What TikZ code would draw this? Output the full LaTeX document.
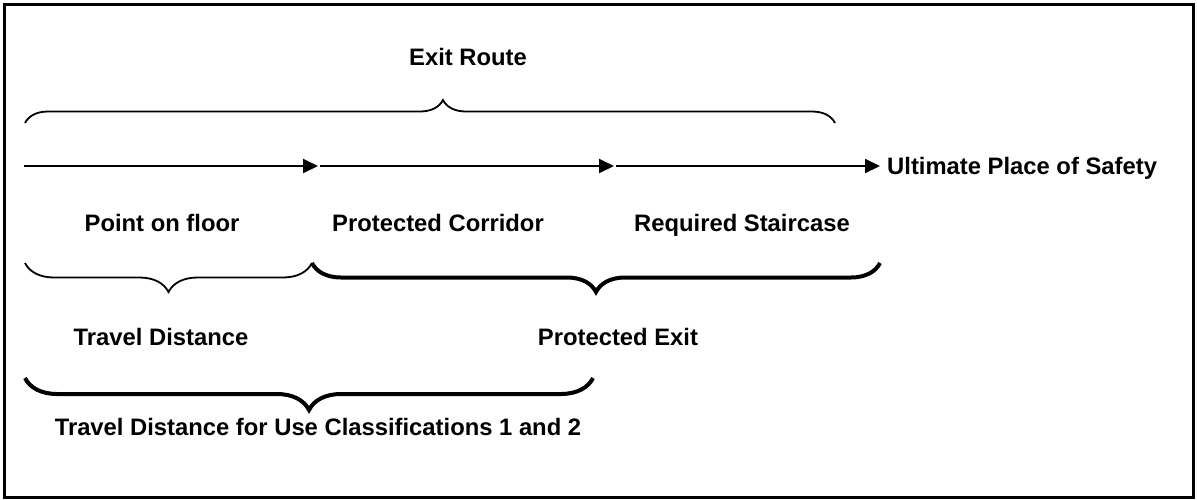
\documentclass[tikz,border=0pt]{standalone}
\usepackage{fontspec}
\setmainfont{Liberation Sans}
\usepackage{tikz}
\usetikzlibrary{arrows.meta,decorations.pathreplacing}
\def\wbrace[#1](#2)(#3:#4){\draw[decorate,decoration={brace,amplitude=#4,#1}] (#2) -- (#3);}
\tikzset{
	lbl/.style={inner sep=0pt, anchor=base, font=\fontsize{23.8}{28}\selectfont\bfseries},
	route/.style={line width=2pt, -{Triangle[length=15pt,width=14pt]}},
	thinbrace/.style={line width=1.8pt},
	thickbrace/.style={line width=4pt}
}

\begin{document}
\begin{tikzpicture}[x=1pt, y=-1pt]
			%%%%% START %%%%%
			
			\useasboundingbox (0,0) rectangle (1197,499);
			\draw[line width=3pt] (4,4) rectangle (1193,497);
			
			\node[lbl] (exitroute) at (468,65) {Exit Route};
			\begin{scope}[thinbrace]
				\wbrace[aspect=0.516](25,123)(835,123:23pt)
			\end{scope}
			
			\coordinate (a0) at (24,166);
			\coordinate (a1) at (318,166);
			\coordinate (a2) at (614,166);
			\node[lbl, anchor=base west] (safety) at (887,174.5) {Ultimate Place of Safety};
			\draw[route] (a0) -- (a1);
			\draw[route, shorten <=2pt] (a1) -- (a2);
			\draw[route, shorten <=2pt, shorten >=7pt] (a2) -- (safety.west |- a2);
			
			\node[lbl] (floor) at (162,231) {Point on floor};
			\node[lbl] (corridor) at (438,231) {Protected Corridor};
			\node[lbl] (stair) at (742,231) {Required Staircase};
			
			\begin{scope}[thinbrace]
				\wbrace[mirror](25,263)(312,263:29pt)
			\end{scope}
			\begin{scope}[thickbrace]
				\wbrace[mirror](312,263)(880,263:29pt)
			\end{scope}
			
			\node[lbl] (travel) at (161,345.5) {Travel Distance};
			\node[lbl] (protexit) at (618,345.5) {Protected Exit};
			
			\begin{scope}[thickbrace]
				\wbrace[mirror](25,378)(593,378:32pt)
			\end{scope}
			
			\node[lbl] (classes) at (318,435) {Travel Distance for Use Classifications 1 and 2};
			
			%%%%% END %%%%%
\end{tikzpicture}
\end{document}
